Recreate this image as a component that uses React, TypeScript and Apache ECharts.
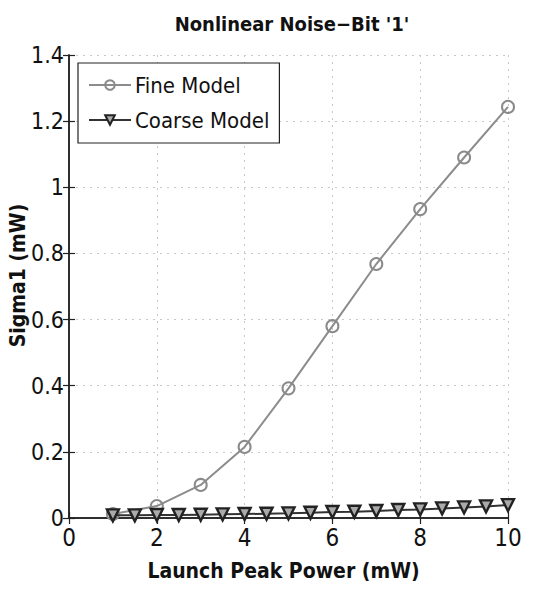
import React, { useEffect, useRef } from "react";
import * as echarts from "echarts";

const fineX = [1, 2, 3, 4, 5, 6, 7, 8, 9, 10];
const fineY = [0.012, 0.036, 0.1, 0.215, 0.392, 0.58, 0.768, 0.934, 1.09, 1.243];
const coarseX = [1, 1.5, 2, 2.5, 3, 3.5, 4, 4.5, 5, 5.5, 6, 6.5, 7, 7.5, 8, 8.5, 9, 9.5, 10];
const coarseY = [0.008, 0.008, 0.009, 0.009, 0.01, 0.011, 0.012, 0.013, 0.014, 0.016, 0.018, 0.019, 0.021, 0.024, 0.026, 0.029, 0.032, 0.035, 0.039];
const seriesNames = ["Fine Model", "Coarse Model"];
const titleText = "Nonlinear Noise\u2212Bit '1'";
const xName = "Launch Peak Power (mW)";
const yName = "Sigma1 (mW)";

const FONT = "'DejaVu Sans Condensed', 'Liberation Sans', Arial, sans-serif";

export default function App() {
  const ref = useRef<HTMLDivElement>(null);
  useEffect(() => {
    if (!ref.current) return;
    const chart = echarts.init(ref.current, null, { renderer: "svg" });
    const axisLine = { show: true, lineStyle: { color: "#222", width: 1.5 } };
    const tick = { show: true, inside: true, length: 6, lineStyle: { color: "#222", width: 1.2 } };
    const gridLine = { show: true, lineStyle: { color: "#c8c8c8", type: [2, 5] as any, width: 1 } };
    chart.setOption({
      animation: false,
      backgroundColor: "#fff",
      title: {
        text: titleText,
        left: 287,
        textAlign: "center",
        top: 9,
        textStyle: { fontFamily: FONT, fontWeight: "bold", fontSize: 20, color: "#111" },
      },
      grid: { left: 69, right: 42, top: 55, bottom: 73, containLabel: false, outerBoundsMode: "none" },
      legend: {
        left: 78,
        top: 63,
        orient: "vertical",
        itemGap: 13,
        itemWidth: 42,
        itemHeight: 12,
        padding: [11, 10, 12, 10],
        backgroundColor: "#fff",
        borderColor: "#222",
        borderWidth: 1.2,
        textStyle: { fontFamily: FONT, fontSize: 22, color: "#111", padding: [0, 0, 0, -1] },
        data: seriesNames,
      },
      xAxis: [
        {
          type: "value",
          min: 0,
          max: 10,
          interval: 2,
          axisLine,
          axisTick: tick,
          splitLine: gridLine,
          axisLabel: { fontFamily: FONT, fontSize: 24, color: "#111", margin: 8 },
          name: xName,
          nameLocation: "middle",
          nameGap: 42,
          nameMoveOverlap: false,
          nameTextStyle: { fontFamily: FONT, fontWeight: "bold", fontSize: 21, color: "#111", padding: [0, 10, 0, 0] },
        },
        {
          type: "value",
          position: "top",
          min: 0,
          max: 10,
          interval: 2,
          axisLine,
          axisTick: tick,
          splitLine: { show: false },
          axisLabel: { show: false },
        },
      ],
      yAxis: [
        {
          type: "value",
          min: 0,
          max: 1.4,
          interval: 0.2,
          axisLine,
          axisTick: tick,
          splitLine: gridLine,
          axisLabel: { fontFamily: FONT, fontSize: 23, color: "#111", margin: 5 },
          name: yName,
          nameLocation: "middle",
          nameGap: 41,
          nameMoveOverlap: false,
          nameTextStyle: { fontFamily: FONT, fontWeight: "bold", fontSize: 21, color: "#111", padding: [0, 0, 0, 22] },
        },
        {
          type: "value",
          position: "right",
          min: 0,
          max: 1.4,
          interval: 0.2,
          axisLine,
          axisTick: tick,
          splitLine: { show: false },
          axisLabel: { show: false },
        },
      ],
      series: [
        {
          name: seriesNames[0],
          type: "line",
          data: fineX.map((x, i) => [x, fineY[i]]),
          symbol: "circle",
          symbolSize: 12,
          showAllSymbol: true,
          lineStyle: { color: "#8c8c8c", width: 2 },
          itemStyle: { color: "transparent", borderColor: "#8a8a8a", borderWidth: 2 },
          z: 3,
        },
        {
          name: seriesNames[1],
          type: "line",
          data: coarseX.map((x, i) => [x, coarseY[i]]),
          symbol: "triangle",
          symbolRotate: 180,
          symbolSize: 12,
          showAllSymbol: true,
          lineStyle: { color: "#333", width: 2 },
          itemStyle: { color: "#aaa", borderColor: "#222", borderWidth: 2.4 },
          z: 4,
        },
      ],
    });
    return () => chart.dispose();
  }, []);
  return <div ref={ref} style={{ width: 550, height: 591, position: "absolute", left: 0, top: 0 }} />;
}
